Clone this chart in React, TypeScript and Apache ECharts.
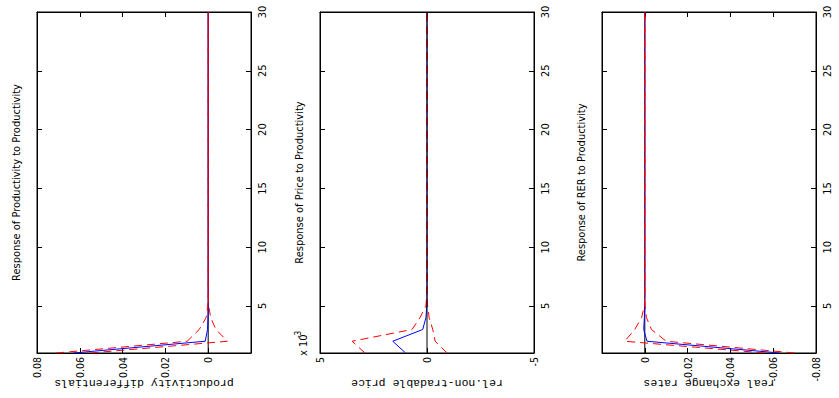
import React, { useEffect, useRef } from "react";
import * as echarts from "echarts";

const periods = [1, 2, 3, 4, 5, 6, 7, 8, 9, 10, 11, 12, 13, 14, 15, 16, 17, 18, 19, 20, 21, 22, 23, 24, 25, 26, 27, 28, 29, 30];
const periodTicks = [5, 10, 15, 20, 25, 30];

const prodTitle = "Response of Productivity to Productivity";
const prodAxisName = "productivity differentials";
const prodTicks = [0.08, 0.06, 0.04, 0.02, 0];
const prodIrf = [0.063, 0.0014, 0.0003, 0.0001, 0, 0, 0, 0, 0, 0, 0, 0, 0, 0, 0, 0, 0, 0, 0, 0, 0, 0, 0, 0, 0, 0, 0, 0, 0, 0];
const prodUpper = [0.071, 0.0098, 0.0042, 0.001, 0.0002, 0, 0, 0, 0, 0, 0, 0, 0, 0, 0, 0, 0, 0, 0, 0, 0, 0, 0, 0, 0, 0, 0, 0, 0, 0];
const prodLower = [0.055, -0.009, -0.0036, -0.0012, -0.0002, 0, 0, 0, 0, 0, 0, 0, 0, 0, 0, 0, 0, 0, 0, 0, 0, 0, 0, 0, 0, 0, 0, 0, 0, 0];

const priceTitle = "Response of Price to Productivity";
const priceAxisName = "rel.non-tradable price";
const priceTicks = [0.005, 0, -0.005];
const priceIrf = [0.001, 0.0016, 0.0002, 0.00005, 0.00001, 0, 0, 0, 0, 0, 0, 0, 0, 0, 0, 0, 0, 0, 0, 0, 0, 0, 0, 0, 0, 0, 0, 0, 0, 0];
const priceUpper = [0.0029, 0.0035, 0.0007, 0.00033, 0.00005, 0.00001, 0, 0, 0, 0, 0, 0, 0, 0, 0, 0, 0, 0, 0, 0, 0, 0, 0, 0, 0, 0, 0, 0, 0, 0];
const priceLower = [-0.00094, -0.00038, -0.00027, -0.0001, -0.00003, 0, 0, 0, 0, 0, 0, 0, 0, 0, 0, 0, 0, 0, 0, 0, 0, 0, 0, 0, 0, 0, 0, 0, 0, 0];

const rerTitle = "Response of RER to Productivity";
const rerAxisName = "real exchange rates";
const rerTicks = [0, -0.02, -0.04, -0.06, -0.08];
const rerIrf = [-0.063, -0.001, 0.0005, 0.0002, 0, 0, 0, 0, 0, 0, 0, 0, 0, 0, 0, 0, 0, 0, 0, 0, 0, 0, 0, 0, 0, 0, 0, 0, 0, 0];
const rerUpper = [-0.056, 0.0094, 0.0047, 0.0015, 0.0002, 0, 0, 0, 0, 0, 0, 0, 0, 0, 0, 0, 0, 0, 0, 0, 0, 0, 0, 0, 0, 0, 0, 0, 0, 0];
const rerLower = [-0.07, -0.01, -0.0031, -0.0008, -0.0001, 0, 0, 0, 0, 0, 0, 0, 0, 0, 0, 0, 0, 0, 0, 0, 0, 0, 0, 0, 0, 0, 0, 0, 0, 0];

const NARROW = "'Liberation Sans Narrow', 'Arial Narrow', 'DejaVu Sans Condensed', 'Liberation Sans', sans-serif";
const MONO = "'Liberation Mono', 'DejaVu Sans Mono', monospace";

const fmt2 = (v: number) => (Math.abs(v) < 1e-12 ? "0" : v.toFixed(2));
const fmtMilli = (v: number) => String(Math.round(v * 1000));

const panels = [
  { left: 37, title: prodTitle, xName: prodAxisName, min: -0.02, max: 0.08, interval: 0.02, ticks: prodTicks, fmt: fmt2, irf: prodIrf, upper: prodUpper, lower: prodLower, zeroOnTop: false },
  { left: 320, title: priceTitle, xName: priceAxisName, min: -0.005, max: 0.005, interval: 0.005, ticks: priceTicks, fmt: fmtMilli, irf: priceIrf, upper: priceUpper, lower: priceLower, zeroOnTop: true },
  { left: 602, title: rerTitle, xName: rerAxisName, min: -0.08, max: 0.02, interval: 0.02, ticks: rerTicks, fmt: fmt2, irf: rerIrf, upper: rerUpper, lower: rerLower, zeroOnTop: false },
];

export default function App() {
  const ref = useRef<HTMLDivElement>(null);
  useEffect(() => {
    const chart = echarts.init(ref.current!, null, { renderer: "svg" });
    const grid: any[] = [];
    const xAxis: any[] = [];
    const yAxis: any[] = [];
    const series: any[] = [];
    const lineAxis = { show: true, onZero: false, lineStyle: { color: "#000", width: 1 } };
    panels.forEach((p, i) => {
      const tick = { show: true, inside: true, length: 5, lineStyle: { color: "#000", width: 1 } };
      grid.push({
        left: p.left, top: 12, width: 214, height: 341, show: true, borderColor: "#000", borderWidth: 1,
        backgroundColor: "#fff", containLabel: false, outerBoundsMode: "none",
      });
      xAxis.push({
        gridIndex: i, type: "value", position: "bottom", inverse: true, min: p.min, max: p.max, interval: p.interval,
        axisLine: lineAxis, axisTick: tick, splitLine: { show: false },
        axisLabel: { show: true, rotate: 90, margin: 4, color: "#000", fontFamily: NARROW, fontSize: 10.5, customValues: p.ticks, formatter: p.fmt },
        name: p.xName, nameLocation: "middle", nameRotate: 180, nameGap: 24, nameMoveOverlap: false,
        nameTextStyle: { fontFamily: MONO, fontSize: 11.5, color: "#000" },
      });
      xAxis.push({
        gridIndex: i, type: "value", position: "top", inverse: true, min: p.min, max: p.max, interval: p.interval,
        axisLine: lineAxis, axisTick: tick, splitLine: { show: false }, axisLabel: { show: false },
      });
      yAxis.push({
        gridIndex: i, type: "value", position: "right", min: 1, max: 30,
        axisLine: lineAxis, axisTick: { ...tick, customValues: periodTicks }, splitLine: { show: false },
        axisLabel: { show: true, rotate: 90, margin: 6, color: "#000", fontFamily: NARROW, fontSize: 11, customValues: periodTicks },
      });
      yAxis.push({
        gridIndex: i, type: "value", position: "left", min: 1, max: 30,
        axisLine: lineAxis, axisTick: { ...tick, customValues: periodTicks }, splitLine: { show: false },
        axisLabel: { show: false },
        name: p.title, nameLocation: "middle", nameRotate: 90, nameGap: 15, nameMoveOverlap: false,
        nameTextStyle: { fontFamily: NARROW, fontSize: 11, color: "#000" },
      });
      const common = { type: "line", xAxisIndex: 2 * i, yAxisIndex: 2 * i, symbol: "none", silent: true };
      const zero = { ...common, name: "zero" + i, z: p.zeroOnTop ? 5 : 2, data: [[0, periods[0]], [0, periods[periods.length - 1]]], lineStyle: { color: "#000", width: 1 } };
      series.push(zero);
      series.push({ ...common, name: "irf" + i, z: 3, data: periods.map((t, k) => [p.irf[k], t]), lineStyle: { color: "#0000ff", width: 1 } });
      series.push({ ...common, name: "upper" + i, z: 4, data: periods.map((t, k) => [p.upper[k], t]), lineStyle: { color: "#ff0000", width: 1, type: [8, 5] } });
      series.push({ ...common, name: "lower" + i, z: 4, data: periods.map((t, k) => [p.lower[k], t]), lineStyle: { color: "#ff0000", width: 1, type: [8, 5] } });
    });
    chart.setOption({
      animation: false,
      backgroundColor: "#fff",
      grid, xAxis, yAxis, series,
      graphic: [
        {
          type: "group", x: 309, y: 356, rotation: Math.PI / 2,
          children: [
            { type: "text", x: 0, y: 0, style: { text: "x 10", fontSize: 11, fontFamily: NARROW, fill: "#000", align: "left", verticalAlign: "bottom" } },
            { type: "text", x: 18, y: -7, style: { text: "-3", fontSize: 8, fontFamily: NARROW, fill: "#000", align: "left", verticalAlign: "bottom" } },
          ],
        },
      ],
    });
    return () => chart.dispose();
  }, []);
  return <div ref={ref} style={{ position: "fixed", left: 0, top: 0, width: 839, height: 398 }} />;
}
